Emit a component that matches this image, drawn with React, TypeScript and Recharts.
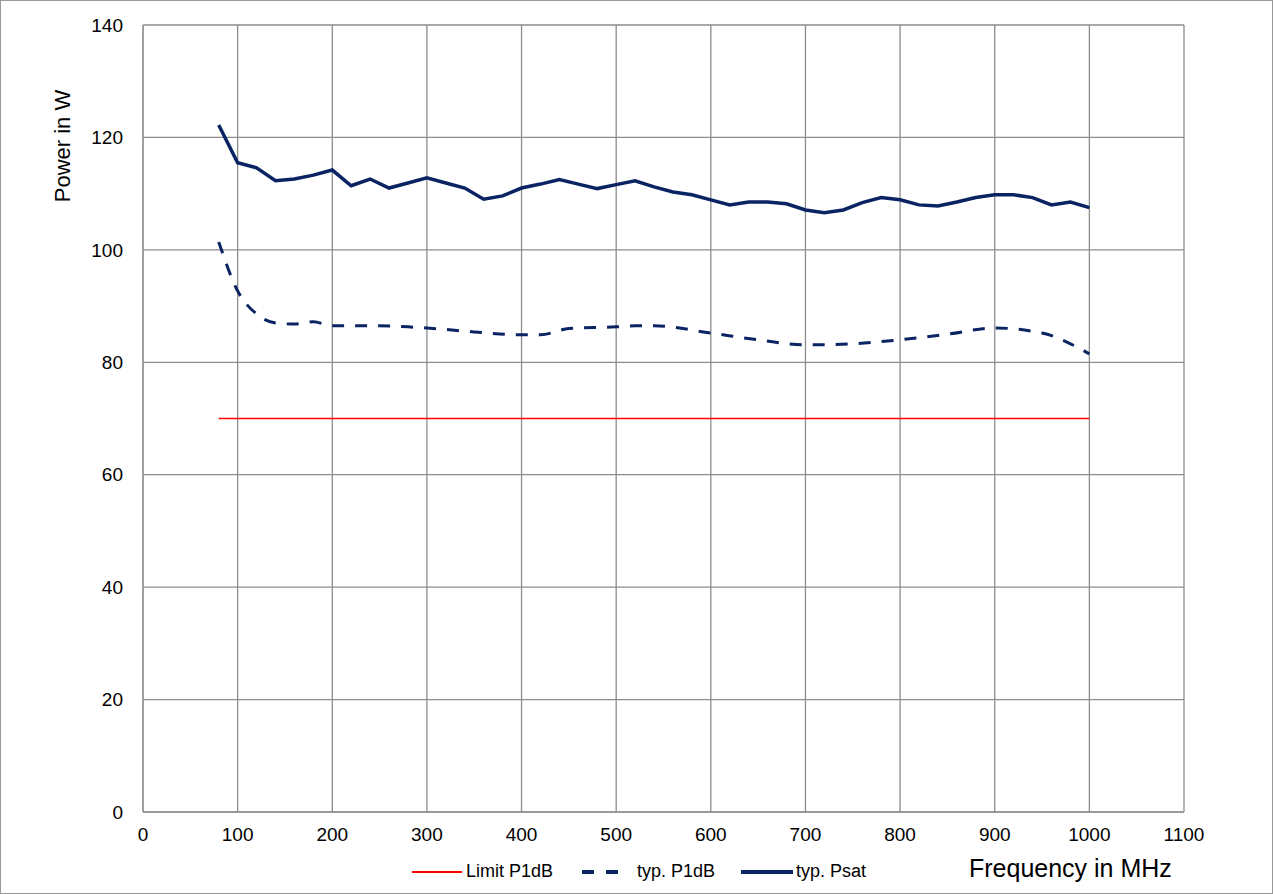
import React from 'react';
import { LineChart, Line, XAxis, YAxis, CartesianGrid } from 'recharts';

const psatFreq = [80,100,120,140,160,180,200,220,240,260,280,300,320,340,360,380,400,420,440,460,480,500,520,540,560,580,600,620,640,660,680,700,720,740,760,780,800,820,840,860,880,900,920,940,960,980,1000];
const psatVals = [122.2,115.5,114.6,112.3,112.6,113.3,114.2,111.4,112.6,111,111.9,112.8,111.9,111,109,109.6,111,111.7,112.5,111.7,110.9,111.6,112.3,111.2,110.3,109.8,108.9,108,108.5,108.5,108.2,107.1,106.6,107.1,108.4,109.3,108.9,108,107.8,108.5,109.3,109.8,109.8,109.3,108,108.5,107.5];
const p1Freq = [80,100,120,140,160,180,200,240,280,300,350,400,420,450,500,520,540,600,650,700,750,800,850,900,950,1000];
const p1Vals = [101.4,92.7,88.6,87,86.8,87.2,86.5,86.5,86.3,86.1,85.4,84.9,84.9,86,86.3,86.5,86.5,85.2,84,83.1,83.3,84,85,86.1,85.2,81.5];
const limitFreq = [80,1000];
const limitVals = [70,70];
const xTicks = [0,100,200,300,400,500,600,700,800,900,1000,1100];
const yTicks = [0,20,40,60,80,100,120,140];

const psat = psatFreq.map((f, i) => ({ f, v: psatVals[i] }));
const p1 = p1Freq.map((f, i) => ({ f, v: p1Vals[i] }));
const limit = limitFreq.map((f, i) => ({ f, v: limitVals[i] }));

const font = 'Liberation Sans, Arial, sans-serif';
const navy = '#0a2463';

export default function App() {
  return (
    <div style={{ position: 'absolute', left: 0, top: 0, width: 1273, height: 894, fontFamily: font, background: '#fff', boxSizing: 'border-box', border: '1px solid #999' }}>
      <LineChart width={1273} height={894} margin={{ top: 24, right: 90, bottom: 53, left: 0 }}>
        <CartesianGrid stroke="#8c8c8c" strokeWidth={1.3} />
        <XAxis type="number" dataKey="f" domain={[0, 1100]} ticks={xTicks} allowDataOverflow
          tickLine={false} axisLine={{ stroke: '#8c8c8c' }} tick={{ fill: '#000', fontSize: 19, fontFamily: font }} tickMargin={10} height={30} />
        <YAxis type="number" dataKey="v" domain={[0, 140]} ticks={yTicks} width={142}
          tickLine={false} axisLine={{ stroke: '#8c8c8c' }} tick={{ fill: '#000', fontSize: 19, fontFamily: font }} tickMargin={14} />
        <Line data={limit} dataKey="v" stroke="#ff0000" strokeWidth={1.5} dot={false} isAnimationActive={false} />
        <Line data={p1} dataKey="v" type="monotone" stroke={navy} strokeWidth={3} strokeDasharray="12 11" dot={false} isAnimationActive={false} />
        <Line data={psat} dataKey="v" stroke={navy} strokeWidth={3.5} dot={false} isAnimationActive={false} />
      </LineChart>
      <div style={{ position: 'absolute', left: 62, top: 145, transform: 'translate(-50%,-50%) rotate(-90deg)', fontSize: 22, whiteSpace: 'nowrap', color: '#000' }}>Power in W</div>
      <div style={{ position: 'absolute', top: 860, left: 411, display: 'flex', alignItems: 'center', fontSize: 18, color: '#000' }}>
        <span style={{ display: 'inline-block', width: 50, height: 2, background: '#ff0000', marginRight: 4 }} />
        <span>Limit P1dB</span>
        <span style={{ display: 'inline-block', width: 36, marginLeft: 29, marginRight: 19, height: 4, background: `repeating-linear-gradient(90deg, ${navy} 0 12px, transparent 12px 24px)` }} />
        <span>typ. P1dB</span>
        <span style={{ display: 'inline-block', width: 52, height: 4, background: navy, marginLeft: 26, marginRight: 3 }} />
        <span>typ. Psat</span>
      </div>
      <div style={{ position: 'absolute', top: 853, left: 968, fontSize: 25, color: '#000' }}>Frequency in MHz</div>
    </div>
  );
}
